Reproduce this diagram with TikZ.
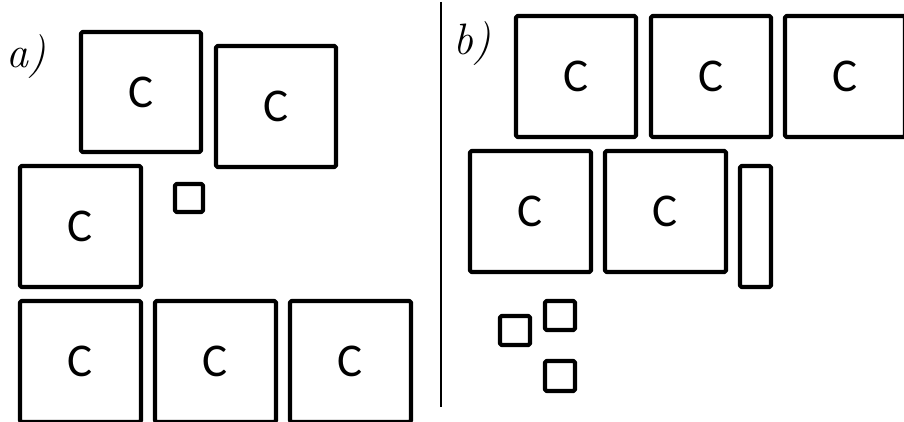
\documentclass[tikz,border=0pt]{standalone}
\usepackage{fontspec}
\setmainfont{Carlito}
\newfontfamily\labfont{Latin Modern Roman}
\begin{document}
\begin{tikzpicture}[x=1pt,y=-1pt,
  box/.style={draw=black, line width=4.2pt, line join=round, rounded corners=1.5pt, inner sep=0pt, outer sep=0pt, font=\fontsize{47}{47}\selectfont},
  lab/.style={inner sep=0pt, font=\labfont\itshape\fontsize{44}{44}\selectfont}]
\useasboundingbox (0,0) rectangle (904,422);
\clip (0,0) rectangle (904,422);
% panel a
\node[lab] (la) at (26,57) {a)};
\node[box, minimum width=120pt, minimum height=120pt] (a1) at (141,92) {C};
\node[box, minimum width=120pt, minimum height=121pt] (a2) at (276,106.5) {C};
\node[box, minimum width=121pt, minimum height=121pt] (a3) at (80.5,226.5) {C};
\node[box, minimum width=28pt, minimum height=28pt] (a4) at (189,198) {};
\node[box, minimum width=121pt, minimum height=121pt] (a5) at (80.5,361.5) {C};
\node[box, minimum width=121pt, minimum height=121pt] (a6) at (215.5,361.5) {C};
\node[box, minimum width=121pt, minimum height=121pt] (a7) at (350.5,361.5) {C};
% divider
\coordinate (dtop) at (441,2);
\coordinate (dbot) at (441,407);
\draw[line width=2.5pt] (dtop) -- (dbot);
% panel b
\node[lab] (lb) at (472,44) {b)};
\node[box, minimum width=120pt, minimum height=121pt] (b1) at (576,76.5) {C};
\node[box, minimum width=120pt, minimum height=121pt] (b2) at (711,76.5) {C};
\node[box, minimum width=120pt, minimum height=121pt] (b3) at (845,76.5) {C};
\node[box, minimum width=121pt, minimum height=121pt] (b4) at (530.5,211.5) {C};
\node[box, minimum width=121pt, minimum height=121pt] (b5) at (665.5,211.5) {C};
\node[box, minimum width=31pt, minimum height=121pt] (b6) at (755.5,226.5) {};
\node[box, minimum width=30pt, minimum height=29pt] (s1) at (515,330.5) {};
\node[box, minimum width=30pt, minimum height=29pt] (s2) at (560,315.5) {};
\node[box, minimum width=30pt, minimum height=30pt] (s3) at (560,376) {};
\end{tikzpicture}
\end{document}
